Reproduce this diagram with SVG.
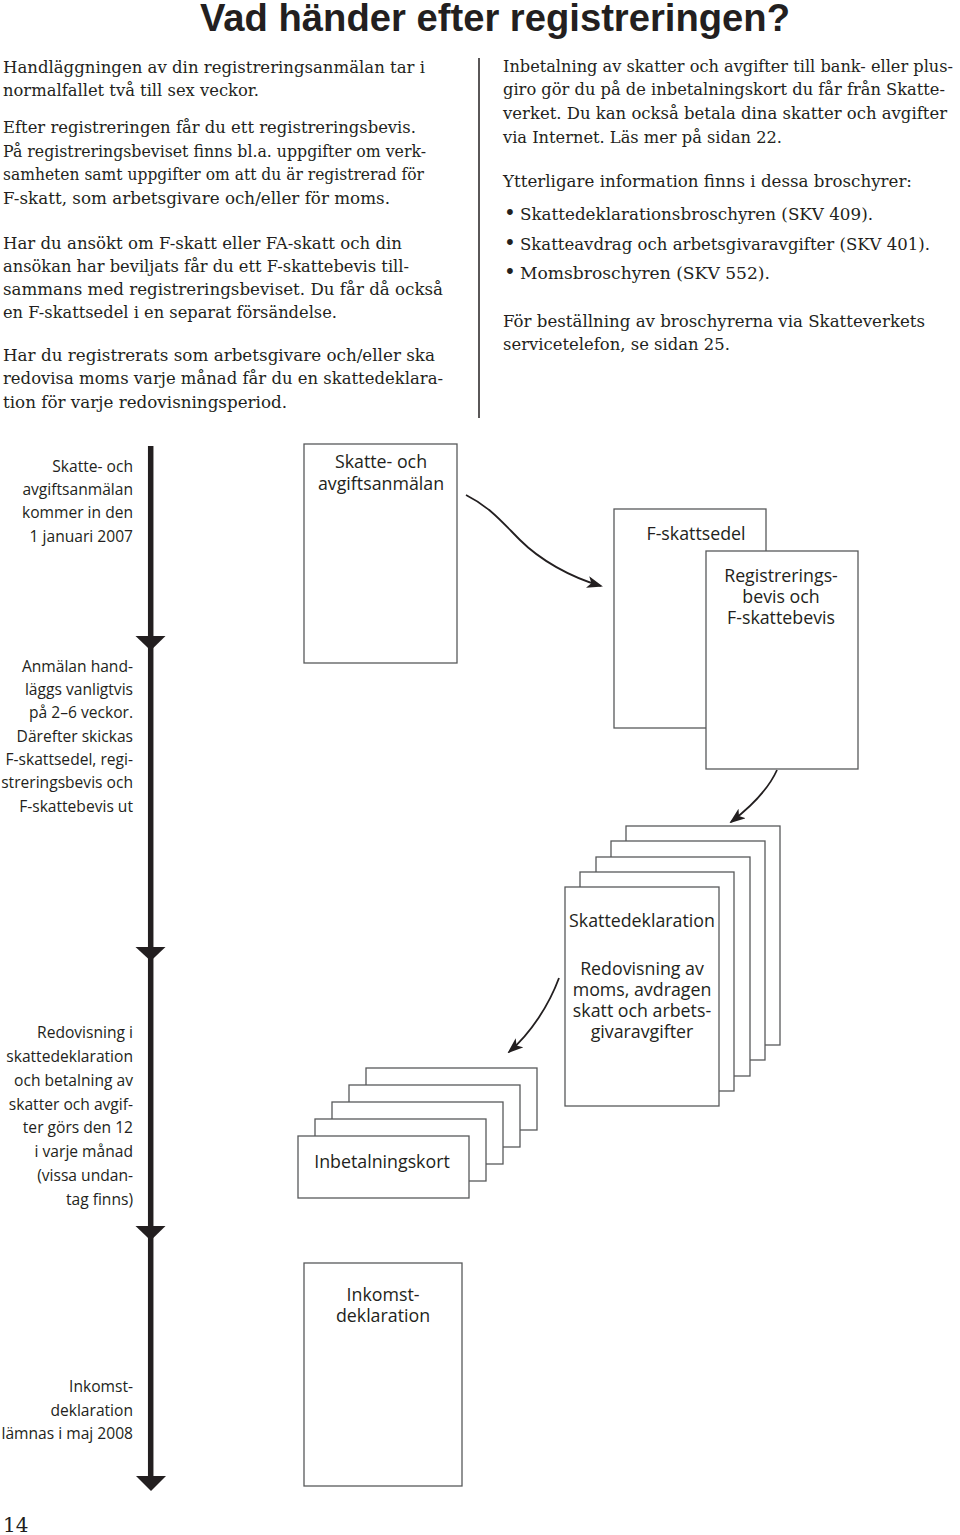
<svg xmlns="http://www.w3.org/2000/svg" width="960" height="1535" viewBox="0 0 960 1535">
<style>
.body{font-family:"DejaVu Serif","Liberation Serif",serif;font-size:16.6px;fill:#231f20}
.title{font-family:"Liberation Sans",Arial,sans-serif;font-weight:bold;font-size:38px;fill:#231f20}
.lbl{font-family:"Open Sans","Noto Sans",sans-serif;font-size:15.6px;fill:#231f20;text-anchor:end}
.box{fill:#fff;stroke:#58595b;stroke-width:1.3}
.bt{font-family:"Open Sans","Noto Sans",sans-serif;font-size:17.8px;fill:#231f20;text-anchor:middle}
.curve{fill:none;stroke:#231f20;stroke-width:1.8}
.tri{fill:#231f20}
</style>
<defs>
<marker id="ah" viewBox="0 0 16 12" refX="14" refY="6" markerWidth="16" markerHeight="12" orient="auto" markerUnits="userSpaceOnUse">
<path d="M0,0 L16,6 L0,12 L4,6 z" fill="#231f20"/>
</marker>
</defs>
<rect width="960" height="1535" fill="#fff"/>

<g id="title"><text class="title" x="200" y="31" textLength="590" lengthAdjust="spacingAndGlyphs">Vad händer efter registreringen?</text></g>

<g id="left-text" class="body">
<text x="3" y="73" textLength="422" lengthAdjust="spacingAndGlyphs">Handläggningen av din registreringsanmälan tar i</text>
<text x="3" y="96" textLength="256" lengthAdjust="spacingAndGlyphs">normalfallet två till sex veckor.</text>
<text x="3" y="133" textLength="413" lengthAdjust="spacingAndGlyphs">Efter registreringen får du ett registreringsbevis.</text>
<text x="3" y="157" textLength="423" lengthAdjust="spacingAndGlyphs">På registreringsbeviset finns bl.a. uppgifter om verk-</text>
<text x="3" y="180" textLength="421" lengthAdjust="spacingAndGlyphs">samheten samt uppgifter om att du är registrerad för</text>
<text x="3" y="204" textLength="387" lengthAdjust="spacingAndGlyphs">F-skatt, som arbetsgivare och/eller för moms.</text>
<text x="3" y="249" textLength="399" lengthAdjust="spacingAndGlyphs">Har du ansökt om F-skatt eller FA-skatt och din</text>
<text x="3" y="272" textLength="406" lengthAdjust="spacingAndGlyphs">ansökan har beviljats får du ett F-skattebevis till-</text>
<text x="3" y="295" textLength="440" lengthAdjust="spacingAndGlyphs">sammans med registreringsbeviset. Du får då också</text>
<text x="3" y="318" textLength="334" lengthAdjust="spacingAndGlyphs">en F-skattsedel i en separat försändelse.</text>
<text x="3" y="361" textLength="432" lengthAdjust="spacingAndGlyphs">Har du registrerats som arbetsgivare och/eller ska</text>
<text x="3" y="384" textLength="440" lengthAdjust="spacingAndGlyphs">redovisa moms varje månad får du en skattedeklara-</text>
<text x="3" y="408" textLength="284" lengthAdjust="spacingAndGlyphs">tion för varje redovisningsperiod.</text>
</g>

<line id="divider" x1="479" y1="58" x2="479" y2="418" stroke="#231f20" stroke-width="1.5"/>

<g id="right-text" class="body">
<text x="503" y="72" font-size="16.1" textLength="450" lengthAdjust="spacingAndGlyphs">Inbetalning av skatter och avgifter till bank- eller plus-</text>
<text x="503" y="95" textLength="442" lengthAdjust="spacingAndGlyphs">giro gör du på de inbetalningskort du får från Skatte-</text>
<text x="503" y="119" textLength="444" lengthAdjust="spacingAndGlyphs">verket. Du kan också betala dina skatter och avgifter</text>
<text x="503" y="143" textLength="279" lengthAdjust="spacingAndGlyphs">via Internet. Läs mer på sidan 22.</text>
<text x="503" y="187" textLength="409" lengthAdjust="spacingAndGlyphs">Ytterligare information finns i dessa broschyrer:</text>
<text x="504" y="220" font-size="20">•</text>
<text x="520" y="220" textLength="353" lengthAdjust="spacingAndGlyphs">Skattedeklarationsbroschyren (SKV 409).</text>
<text x="504" y="250" font-size="20">•</text>
<text x="520" y="250" textLength="410" lengthAdjust="spacingAndGlyphs">Skatteavdrag och arbetsgivaravgifter (SKV 401).</text>
<text x="504" y="279" font-size="20">•</text>
<text x="520" y="279" textLength="250" lengthAdjust="spacingAndGlyphs">Momsbroschyren (SKV 552).</text>
<text x="503" y="327" textLength="422" lengthAdjust="spacingAndGlyphs">För beställning av broschyrerna via Skatteverkets</text>
<text x="503" y="350" textLength="227" lengthAdjust="spacingAndGlyphs">servicetelefon, se sidan 25.</text>
</g>

<g id="connectors">
<g id="timeline">
<line x1="150.7" y1="446" x2="150.7" y2="1480" stroke="#231f20" stroke-width="5.5"/>
<path class="tri" d="M135.5,636 L165.5,636 L150.7,650.5 z"/>
<path class="tri" d="M135.5,947 L165.5,947 L150.7,961 z"/>
<path class="tri" d="M135.5,1226 L165.5,1226 L150.7,1240.5 z"/>
<path class="tri" d="M136,1476 L166,1476 L151,1491 z"/>
</g>
<path class="curve" d="M466,495 C490,507 502,522 520,540 C540,560 570,577 601,586" marker-end="url(#ah)"/>
<path class="curve" d="M777,770 C768,790 752,806 731,822" marker-end="url(#ah)"/>
<path class="curve" d="M559,978 C549,1005 531,1033 509,1052" marker-end="url(#ah)"/>
</g>

<g id="timeline-labels" class="lbl">
<text x="133" y="472">Skatte- och</text>
<text x="133" y="495">avgiftsanmälan</text>
<text x="133" y="518">kommer in den</text>
<text x="133" y="542">1 januari 2007</text>
<text x="133" y="672">Anmälan hand-</text>
<text x="133" y="695">läggs vanligtvis</text>
<text x="133" y="718">på 2–6 veckor.</text>
<text x="133" y="742">Därefter skickas</text>
<text x="133" y="765">F-skattsedel, regi-</text>
<text x="133" y="788">streringsbevis och</text>
<text x="133" y="812">F-skattebevis ut</text>
<text x="133" y="1038">Redovisning i</text>
<text x="133" y="1062">skattedeklaration</text>
<text x="133" y="1086">och betalning av</text>
<text x="133" y="1110">skatter och avgif-</text>
<text x="133" y="1133">ter görs den 12</text>
<text x="133" y="1157">i varje månad</text>
<text x="133" y="1181">(vissa undan-</text>
<text x="133" y="1205">tag finns)</text>
<text x="133" y="1392">Inkomst-</text>
<text x="133" y="1416">deklaration</text>
<text x="133" y="1439">lämnas i maj 2008</text>
</g>

<g id="skatte-avgiftsanmalan">
<rect class="box" x="304" y="444" width="153" height="219"/>
<text class="bt" x="381" y="468">Skatte- och</text>
<text class="bt" x="381" y="490">avgiftsanmälan</text>
</g>

<g id="f-skattsedel">
<rect class="box" x="614" y="509" width="152" height="219"/>
<text class="bt" x="696" y="540">F-skattsedel</text>
</g>

<g id="registreringsbevis">
<rect class="box" x="706" y="551" width="152" height="218"/>
<text class="bt" x="781" y="582">Registrerings-</text>
<text class="bt" x="781" y="603">bevis och</text>
<text class="bt" x="781" y="624">F-skattebevis</text>
</g>

<g id="skattedeklaration">
<rect class="box" x="626" y="826" width="154" height="219"/>
<rect class="box" x="611" y="841" width="154" height="219"/>
<rect class="box" x="596" y="857" width="154" height="219"/>
<rect class="box" x="580" y="872" width="154" height="219"/>
<rect class="box" x="565" y="887" width="154" height="219"/>
<text class="bt" x="642" y="927">Skattedeklaration</text>
<text class="bt" x="642" y="975">Redovisning av</text>
<text class="bt" x="642" y="996">moms, avdragen</text>
<text class="bt" x="642" y="1017">skatt och arbets-</text>
<text class="bt" x="642" y="1038">givaravgifter</text>
</g>

<g id="inbetalningskort">
<rect class="box" x="366" y="1068" width="171" height="62"/>
<rect class="box" x="349" y="1085" width="171" height="62"/>
<rect class="box" x="332" y="1102" width="171" height="62"/>
<rect class="box" x="315" y="1119" width="171" height="62"/>
<rect class="box" x="298" y="1136" width="171" height="62"/>
<text class="bt" x="382" y="1168">Inbetalningskort</text>
</g>

<g id="inkomstdeklaration">
<rect class="box" x="304" y="1263" width="158" height="223"/>
<text class="bt" x="383" y="1301">Inkomst-</text>
<text class="bt" x="383" y="1322">deklaration</text>
</g>

<text id="page-number" x="3" y="1532" font-family="DejaVu Serif, Liberation Serif, serif" font-size="20" fill="#231f20">14</text>
</svg>
